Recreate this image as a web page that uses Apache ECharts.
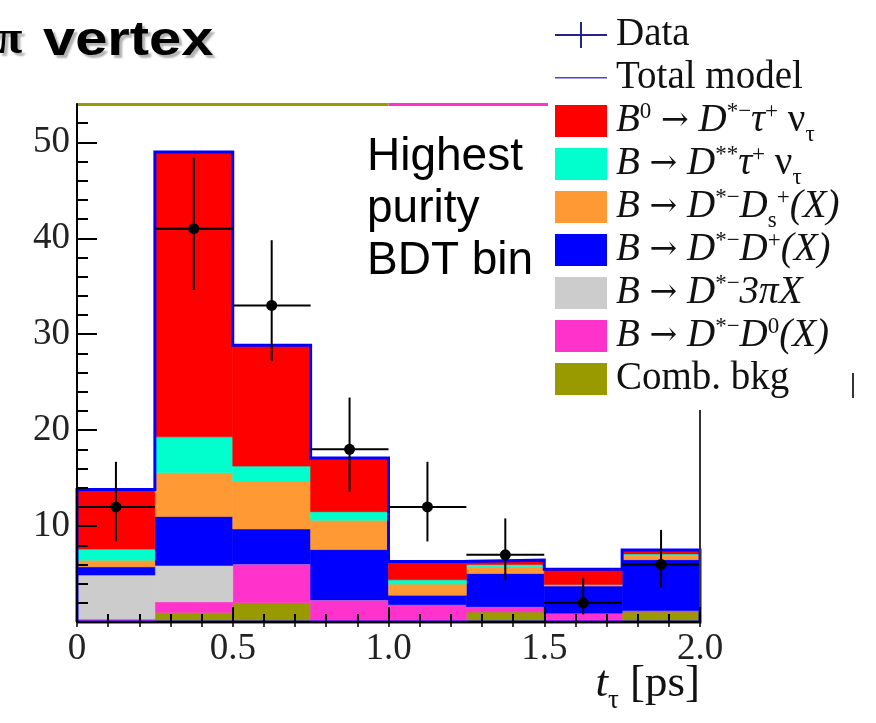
<!DOCTYPE html>
<html>
<head>
<meta charset="utf-8">
<script src="https://cdn.jsdelivr.net/npm/echarts@6/dist/echarts.min.js"></script>
<style>
  html, body { margin: 0; padding: 0; background: #fff; }
  #chart { width: 876px; height: 723px; }
</style>
</head>
<body>
<div id="chart"></div>
<script>
// Bin edges of the tau decay-time histogram [ps]
const binEdges = [0, 0.25, 0.5, 0.75, 1.0, 1.25, 1.5, 1.75, 2.0];

// Fitted yields per bin for each model component (stacked bottom to top)
const combBkg   = [0,    1.0,  2.0,  0,    0,    1.05, 0,    1.05];
const dstarD0   = [0.3,  1.1,  4.05, 2.3,  1.8,  0.55, 0.9,  0.15];
const dstar3pi  = [4.6,  3.8,  0,    0,    0,    0,    0,    0];
const dstarDp   = [0.85, 5.1,  3.65, 5.25, 1.0,  3.45, 2.85, 5.3];
const dstarDs   = [0.7,  4.55, 5.0,  3.05, 1.15, 0.7,  0.1,  0.45];
const dstar2Tau = [1.15, 3.75, 1.55, 0.9,  0.45, 0.25, 0.05, 0.15];
const signalTau = [6.2,  29.7, 12.6, 5.6,  1.9,  0.45, 1.6,  0.4];

// Observed candidates with asymmetric (Poisson) uncertainties
const dataCounts  = [12, 41, 33, 18, 12, 7, 2, 6];
const dataErrLow  = [3.6, 6.4, 5.8, 4.4, 3.6, 2.6, 1.2, 2.4];
const dataErrHigh = [4.7, 7.4, 6.8, 5.4, 4.7, 3.8, 2.6, 3.6];

// Axis ticks and labels
const xTickLabels = ['0', '0.5', '1.0', '1.5', '2.0'];
const yMajorTicks = [10, 20, 30, 40, 50];
const yMinorTicks = [2, 4, 6, 8, 12, 14, 16, 18, 22, 24, 26, 28, 32, 34, 36, 38, 42, 44, 46, 48, 52];
const yMax = 54;

const SERIF = 'Liberation Serif';
const SANS = 'Liberation Sans';

// Model components, drawn in stacking order
const components = [
  { name: 'Comb. bkg',       values: combBkg,   color: '#999900',
    label: '{n|Comb. bkg}' },
  { name: 'B → D*−D0(X)',    values: dstarD0,   color: '#ff33cc',
    label: '{i|B}{n| }{ar|→}{n| }{i|D}{sup|*−}{i|D}{sup|0}{i|(X)}' },
  { name: 'B → D*−3πX',      values: dstar3pi,  color: '#cccccc',
    label: '{i|B}{n| }{ar|→}{n| }{i|D}{sup|*−}{i|3πX}' },
  { name: 'B → D*−D+(X)',    values: dstarDp,   color: '#0000ff',
    label: '{i|B}{n| }{ar|→}{n| }{i|D}{sup|*−}{i|D}{sup|+}{i|(X)}' },
  { name: 'B → D*−Ds+(X)',   values: dstarDs,   color: '#ff9933',
    label: '{i|B}{n| }{ar|→}{n| }{i|D}{sup|*−}{i|D}{sub|s}{sup|+}{i|(X)}' },
  { name: 'B → D**τ+ ντ',    values: dstar2Tau, color: '#00ffcc',
    label: '{i|B}{n| }{ar|→}{n| }{i|D}{sup|**}{i|τ}{sup|+}{n| ν}{sub|τ}' },
  { name: 'B0 → D*−τ+ ντ',   values: signalTau, color: '#ff0000',
    label: '{i|B}{sup|0}{n| }{ar|→}{n| }{i|D}{sup|*−}{i|τ}{sup|+}{n| ν}{sub|τ}' }
];

const legendText = { 'Data': '{n|Data}', 'Total model': '{n|Total model}' };
components.forEach(c => { legendText[c.name] = c.label; });

// Stack the components
const base = binEdges.slice(1).map(() => 0);
const fillSeries = components.map(comp => {
  const data = comp.values.map((v, i) => {
    const item = [binEdges[i], binEdges[i + 1], base[i], base[i] + v];
    base[i] += v;
    return item;
  });
  return {
    type: 'custom',
    name: comp.name,
    xAxisIndex: 0,
    yAxisIndex: 0,
    z: 2,
    itemStyle: { color: comp.color },
    encode: { x: [0, 1], y: [2, 3] },
    data: data,
    renderItem: function (params, api) {
      const p0 = api.coord([api.value(0), api.value(3)]);
      const p1 = api.coord([api.value(1), api.value(2)]);
      return {
        type: 'rect',
        shape: { x: p0[0], y: p0[1], width: p1[0] - p0[0], height: p1[1] - p0[1] },
        style: { fill: comp.color, stroke: comp.color, lineWidth: 0.6 }
      };
    }
  };
});
const totals = base.slice();

// Outline of the total model (closed step contour)
const outlinePts = [[binEdges[0], 0]];
totals.forEach((t, i) => { outlinePts.push([binEdges[i], t], [binEdges[i + 1], t]); });
outlinePts.push([binEdges[binEdges.length - 1], 0], [binEdges[0], 0]);

const outlineSeries = {
  type: 'line',
  name: 'Total model',
  xAxisIndex: 0,
  yAxisIndex: 0,
  z: 3,
  clip: false,
  symbol: 'none',
  data: outlinePts,
  lineStyle: { color: '#0000ff', width: 3, join: 'miter' },
  itemStyle: { color: '#4646dc' },
  markLine: {
    silent: true,
    symbol: 'none',
    label: { show: false },
    lineStyle: { type: 'solid', width: 3 },
    data: [
      [{ coord: [0, yMax], lineStyle: { color: '#999900', type: 'solid', width: 3 } }, { coord: [1.0, yMax] }],
      [{ coord: [1.0, yMax], lineStyle: { color: '#ff33cc', type: 'solid', width: 3 } }, { coord: [2.0, yMax] }]
    ]
  }
};

// Data points with error bars
const dataItems = dataCounts.map((n, i) => [
  (binEdges[i] + binEdges[i + 1]) / 2, n, dataErrLow[i], dataErrHigh[i], (binEdges[i + 1] - binEdges[i]) / 2
]);
const dataSeries = {
  type: 'custom',
  name: 'Data',
  xAxisIndex: 0,
  yAxisIndex: 0,
  z: 6,
  itemStyle: { color: '#23238a' },
  encode: { x: 0, y: 1 },
  data: dataItems,
  renderItem: function (params, api) {
    const x = api.value(0), y = api.value(1);
    const c = api.coord([x, y]);
    const top = api.coord([x, y + api.value(3)]);
    const bot = api.coord([x, y - api.value(2)]);
    const l = api.coord([x - api.value(4), y]);
    const r = api.coord([x + api.value(4), y]);
    const ls = { stroke: '#000', lineWidth: 2 };
    return {
      type: 'group',
      children: [
        { type: 'line', shape: { x1: c[0], y1: top[1], x2: c[0], y2: bot[1] }, style: ls },
        { type: 'line', shape: { x1: l[0], y1: c[1], x2: r[0], y2: c[1] }, style: ls },
        { type: 'circle', shape: { cx: c[0], cy: c[1], r: 5.5 }, style: { fill: '#000' } }
      ]
    };
  }
};

const legendOrder = ['Data', 'Total model'].concat(components.slice().reverse().map(c => c.name));
const legendData = legendOrder.map(name => {
  if (name === 'Data') {
    return { name: name, icon: 'path://M0,0M52,32M0,15h52v2h-52zM25,3h2v26h-2z', itemStyle: { color: '#23238a', borderWidth: 0 } };
  }
  if (name === 'Total model') {
    return { name: name, icon: 'path://M0,0M52,32M0,15h52v1.6h-52z', itemStyle: { color: '#4646dc', borderWidth: 0 } };
  }
  return { name: name, icon: 'rect', itemStyle: { borderWidth: 0 } };
});

// Legend row height: tall enough that sub/superscripts stay inside each row
const LH = 62;
const ROW = 43;
const chart = echarts.init(document.getElementById('chart'), null, { renderer: 'canvas' });

const gridBox = { left: 77, right: 176, top: 104, bottom: 101 };

chart.setOption({
  animation: false,
  backgroundColor: '#ffffff',
  grid: [
    Object.assign({ containLabel: false }, gridBox),
    Object.assign({ containLabel: false }, gridBox)
  ],
  xAxis: [
    {
      type: 'value', gridIndex: 0, position: 'bottom', min: 0, max: 2, interval: 0.5, z: 10,
      axisLine: { show: true, onZero: false, lineStyle: { color: '#000', width: 2 } },
      axisTick: { show: true, inside: true, length: 15, lineStyle: { color: '#000', width: 2 } },
      minorTick: { show: true, splitNumber: 5, length: 8, lineStyle: { color: '#000', width: 2 } },
      splitLine: { show: false },
      axisLabel: {
        margin: 9, fontFamily: SERIF, fontSize: 37, color: '#222',
        formatter: v => xTickLabels[Math.round(v / 0.5)]
      },
      name: '{it|t}{sub|τ}{n| [ps]}',
      nameLocation: 'end',
      nameGap: 0,
      nameMoveOverlap: false,
      nameTextStyle: {
        fontFamily: SERIF, fontSize: 45, color: '#111', align: 'right', verticalAlign: 'top',
        padding: [39, 0, 0, 0],
        rich: {
          n: { fontFamily: SERIF, fontSize: 45, color: '#111', lineHeight: 46 },
          it: { fontFamily: SERIF, fontSize: 45, fontStyle: 'italic', color: '#111', lineHeight: 46 },
          sub: { fontFamily: SERIF, fontSize: 27, color: '#111', verticalAlign: 'top', lineHeight: 2, padding: [26, 0, 0, 0] }
        }
      }
    },
    {
      type: 'value', gridIndex: 0, position: 'top', min: 0, max: 2, interval: 0.1, z: 10,
      axisLine: { show: false },
      axisTick: { show: true, inside: true, length: 5, lineStyle: { color: '#000', width: 1.5 } },
      axisLabel: { show: false },
      splitLine: { show: false }
    },
    {
      type: 'value', gridIndex: 1, min: 0, max: 2, show: false
    }
  ],
  yAxis: [
    {
      type: 'value', gridIndex: 0, position: 'left', min: 0, max: yMax, z: 10,
      axisLine: { show: true, onZero: false, lineStyle: { color: '#000', width: 2 } },
      axisTick: { show: true, inside: true, length: 20, customValues: yMajorTicks, lineStyle: { color: '#000', width: 2 } },
      axisLabel: { customValues: yMajorTicks, margin: 7, fontFamily: SERIF, fontSize: 37, color: '#222' },
      splitLine: { show: false }
    },
    {
      type: 'value', gridIndex: 0, position: 'right', min: 0, max: yMax, z: 10,
      axisLine: { show: true, onZero: false, lineStyle: { color: '#333', width: 2 } },
      axisTick: { show: false },
      axisLabel: { show: false },
      splitLine: { show: false }
    },
    {
      type: 'value', gridIndex: 1, position: 'left', min: 0, max: yMax, z: 10,
      axisLine: { show: false },
      axisTick: { show: true, inside: true, length: 11, customValues: yMinorTicks, lineStyle: { color: '#000', width: 2 } },
      axisLabel: { show: false },
      splitLine: { show: false }
    }
  ],
  legend: {
    orient: 'vertical',
    left: 548,
    top: 0,
    padding: [4, 30, 0, 7],
    itemWidth: 52,
    itemHeight: 32,
    itemGap: ROW - LH,
    selectedMode: false,
    backgroundColor: '#ffffff',
    z: 20,
    data: legendData,
    formatter: name => legendText[name],
    textStyle: {
      fontFamily: SERIF, fontSize: 39, color: '#111', lineHeight: LH, padding: [0, 0, 0, 4],
      rich: {
        n: { fontFamily: SERIF, fontSize: 39, color: '#111', lineHeight: LH },
        i: { fontFamily: SERIF, fontSize: 39, fontStyle: 'italic', color: '#111', lineHeight: LH },
        ar: { fontFamily: 'DejaVu Serif', fontSize: 33, color: '#111', lineHeight: LH },
        sup: { fontFamily: SERIF, fontSize: 23, color: '#111', verticalAlign: 'top', lineHeight: 2, padding: [10, 0, 0, 0] },
        sub: { fontFamily: SERIF, fontSize: 23, color: '#111', verticalAlign: 'top', lineHeight: 2, padding: [33, 0, 0, 0] }
      }
    }
  },
  graphic: [
    {
      type: 'text', x: -4, y: 17, z: 50,
      style: {
        text: 'π', fontFamily: SERIF, fontSize: 48, fontWeight: 'bold', fill: '#000',
        textShadowColor: 'rgba(0,0,0,0.3)', textShadowOffsetX: 3, textShadowOffsetY: 3, textShadowBlur: 2
      }
    },
    {
      type: 'text', x: 43, y: 17, z: 50, scaleX: 1.18,
      style: {
        text: 'vertex', fontFamily: SANS, fontSize: 49, fontWeight: 'bold', fill: '#000',
        textShadowColor: 'rgba(0,0,0,0.3)', textShadowOffsetX: 3, textShadowOffsetY: 3, textShadowBlur: 2
      }
    },
    {
      type: 'text', x: 367, y: 131, z: 50,
      style: {
        text: 'Highest\npurity\nBDT bin', fontFamily: SANS, fontSize: 46, lineHeight: 52, fill: '#000'
      }
    },
    {
      type: 'line', z: 50,
      shape: { x1: 853, y1: 373, x2: 853, y2: 398 },
      style: { stroke: '#333', lineWidth: 2 }
    }
  ],
  series: fillSeries.concat([outlineSeries, dataSeries])
});
</script>
</body>
</html>
